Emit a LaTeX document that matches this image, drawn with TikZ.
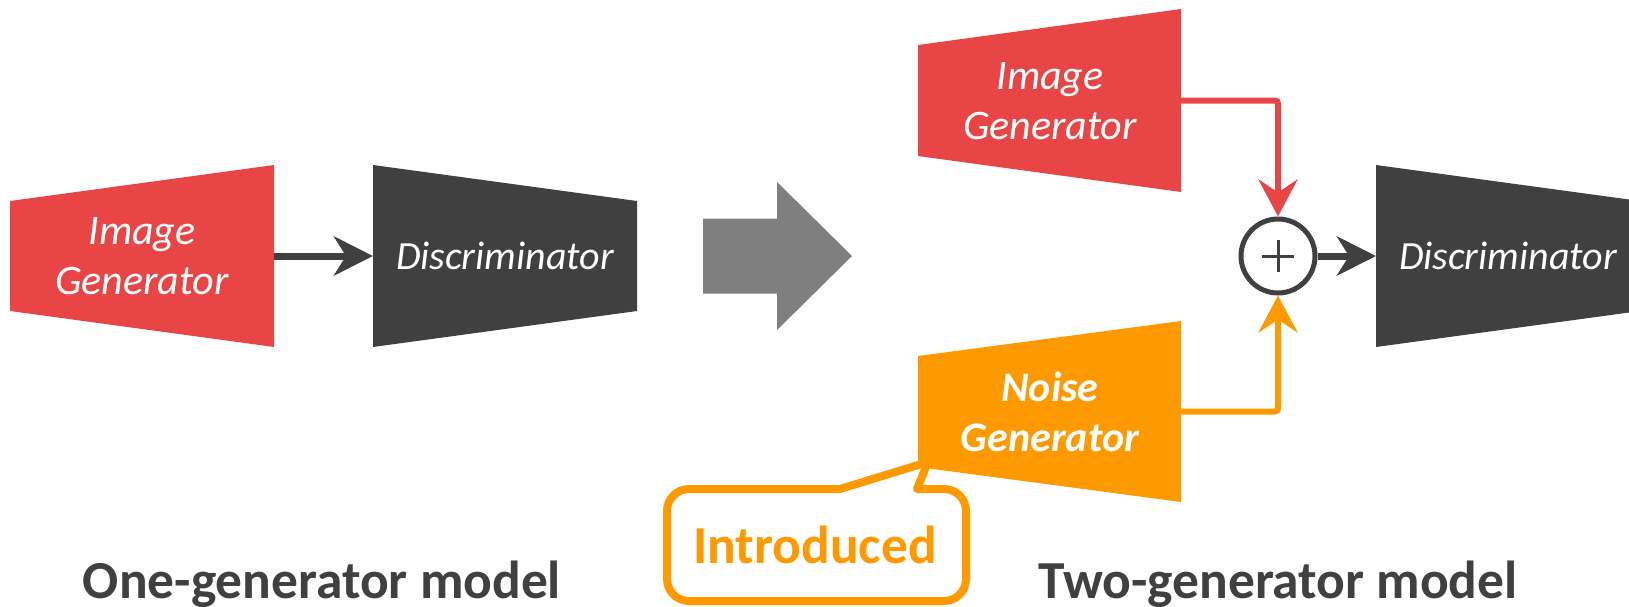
\documentclass[tikz,border=0pt]{standalone}
\usepackage{fontspec}
\setmainfont{Carlito}
\usetikzlibrary{arrows.meta}
\definecolor{gred}{HTML}{E84546}
\definecolor{gdark}{HTML}{404040}
\definecolor{gorange}{HTML}{FF9900}
\definecolor{ggray}{HTML}{7F7F7F}
\tikzset{
 genlabel/.style={text=white, align=center, inner sep=0pt, font=\fontsize{42}{50}\selectfont\itshape},
 disclabel/.style={text=white, inner sep=0pt, font=\fontsize{40}{48}\selectfont\itshape},
 conn/.style={line width=7pt, -{Stealth[length=39pt,width=39pt,inset=12pt]}},
 vconn/.style={line width=6pt, rounded corners=3pt, -{Stealth[length=37pt,width=39pt,inset=13pt]}},
 title/.style={text=gdark, anchor=base, inner sep=0pt, font=\fontsize{53.5}{60}\selectfont\bfseries},
}
\begin{document}
\begin{tikzpicture}[x=1pt,y=-1pt]
\clip (0,0) rectangle (1629,606);
% ---- one-generator model ----
\fill[gred] (10,201) -- (274,165) -- (274,347) -- (10,311) -- cycle;
\node[genlabel] (ig1) at (142,256) {Image\\Generator};
\coordinate (ig1out) at (274,256);
\fill[gdark] (373,165) -- (637,201) -- (637,311) -- (373,347) -- cycle;
\node[disclabel] (d1) at (505,256) {Discriminator};
\coordinate (d1in) at (373,256);
\draw[conn, gdark] (ig1out) -- (d1in);
% ---- big arrow ----
\fill[ggray] (703,218.5) -- (777,218.5) -- (777,182) -- (852,256) -- (777,330) -- (777,293.5) -- (703,293.5) -- cycle;
% ---- two-generator model ----
\fill[gred] (918,45) -- (1181,9) -- (1181,192) -- (918,156) -- cycle;
\node[genlabel] (ig2) at (1050,101) {Image\\Generator};
\coordinate (ig2out) at (1181,100.5);
\fill[gorange] (918,356) -- (1181,321) -- (1181,502) -- (918,467) -- cycle;
\node[genlabel, font=\fontsize{42}{50}\selectfont\bfseries\itshape] (ng) at (1050,412) {Noise\\Generator};
\coordinate (ngout) at (1181,411.5);
\node[circle, draw=gdark, line width=5pt, minimum size=74pt, inner sep=0pt] (sum) at (1278,256) {};
\draw[gdark, line width=3pt] (sum.center) +(-16,0) -- +(16,0) (sum.center) +(0,-16) -- +(0,16);
\draw[vconn, gred] (ig2out) -| (sum.north);
\draw[vconn, gorange] (ngout) -| (sum.south);
\fill[gdark] (1376,165) -- (1640,201) -- (1640,311) -- (1376,347) -- cycle;
\node[disclabel] (d2) at (1508,256) {Discriminator};
\coordinate (d2in) at (1376,256);
\draw[conn, gdark] (sum.east) -- (d2in);
% ---- callout ----
\draw[gorange, line width=8pt, line join=round, fill=white]
  (760,489) [sharp corners] -- (840,489) -- (928,462) -- (917,489) -- (940,489)
  [rounded corners=22pt] -- (966,489) -- (966,601) -- (667,601) -- (667,489) -- cycle;
\node[text=gorange, anchor=base, inner sep=0pt, font=\fontsize{53.5}{60}\selectfont\bfseries] (intro) at (815,563) {Introduced};
% ---- titles ----
\node[title] (t1) at (322,598) {One-generator model};
\node[title] (t2) at (1278,598) {Two-generator model};
\end{tikzpicture}
\end{document}
